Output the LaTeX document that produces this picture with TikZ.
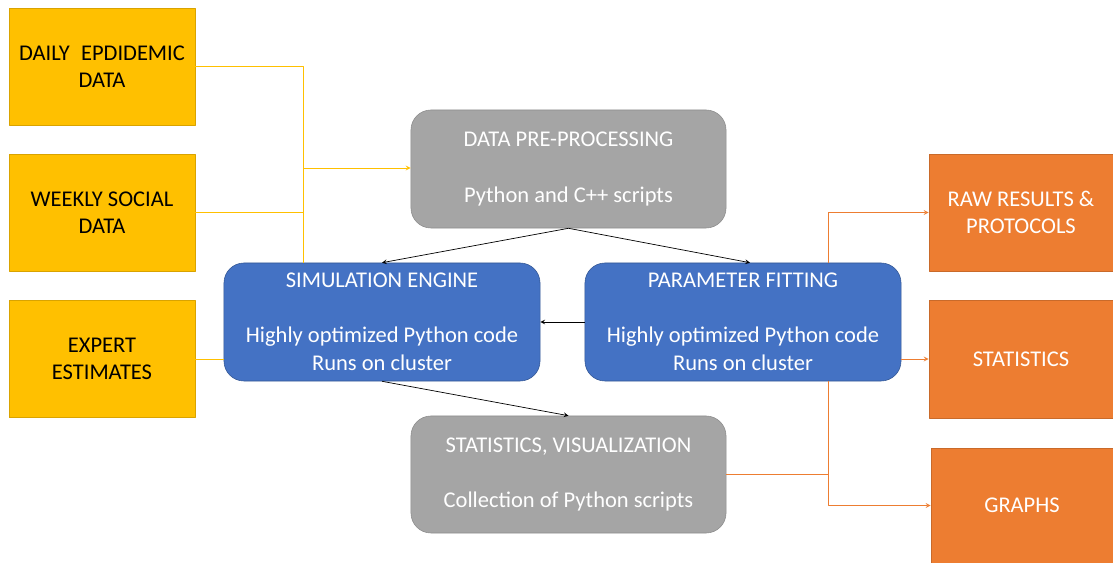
\documentclass[tikz,border=0pt]{standalone}
\usepackage{fontspec}
\setmainfont{Carlito}
\usetikzlibrary{calc}
\definecolor{inyellow}{HTML}{FFC000}
\definecolor{procgray}{HTML}{A5A5A5}
\definecolor{coreblue}{HTML}{4472C4}
\definecolor{outorange}{HTML}{ED7D31}
\tikzset{
	box/.style={rectangle, align=center, inner sep=0pt, font=\fontsize{16}{19.6}\selectfont},
	inbox/.style={box, fill=inyellow, draw=inyellow!85!black, text=black, minimum width=4.65cm, minimum height=2.925cm},
	procbox/.style={box, fill=procgray, draw=procgray!85!black, text=white, rounded corners=0.5cm, minimum width=7.875cm, minimum height=2.95cm},
	corebox/.style={box, fill=coreblue, draw=coreblue!75!black, text=white, rounded corners=0.5cm, minimum width=7.9cm, minimum height=2.95cm},
	outbox/.style={box, fill=outorange, draw=outorange!85!black, text=white, minimum width=4.6cm, minimum height=2.925cm},
}
\begin{document}
\begin{tikzpicture}[x=0.025cm, y=-0.025cm, line join=round, >=stealth]
	\useasboundingbox (0,0) rectangle (1113,563);
	% inputs
	\node[inbox] (daily) at (102,66.5) {DAILY\enspace EPDIDEMIC\\DATA};
	\node[inbox] (weekly) at (102,212.5) {WEEKLY SOCIAL\\DATA};
	\node[inbox] (expert) at (102,359) {EXPERT\\ESTIMATES};
	% processing
	\node[procbox] (prep) at (568.5,169) {DATA PRE-PROCESSING\\ \\Python and C++ scripts};
	\node[corebox] (sim) at (382,322) {SIMULATION ENGINE\\ \\Highly optimized Python code\\Runs on cluster};
	\node[corebox] (fit) at (743,322) {PARAMETER FITTING\\ \\Highly optimized Python code\\Runs on cluster};
	\node[procbox, minimum height=2.925cm] (vis) at (568.5,474.5) {STATISTICS, VISUALIZATION\\ \\Collection of Python scripts};
	% outputs
	\node[outbox] (raw) at (1021,212.5) {RAW RESULTS \&\\PROTOCOLS};
	\node[outbox, minimum height=2.95cm] (stat) at (1021,359) {STATISTICS};
	\node[outbox, minimum width=4.55cm, minimum height=2.875cm] (graphs) at (1022,505.5) {GRAPHS};
	% junctions
	\coordinate (yj) at (303,168);
	\coordinate (oj) at (828,474);
	% yellow connectors
	\draw[inyellow, line width=0.6pt] (daily.east) -- (daily.east -| yj) -- (yj |- sim.north);
	\draw[inyellow, line width=0.6pt] (weekly.east) -- (weekly.east -| yj);
	\draw[inyellow, line width=0.6pt, ->] (yj) -- (yj -| prep.west);
	\draw[inyellow, line width=0.6pt] (expert.east) -- (expert.east -| sim.west);
	% black connectors
	\draw[->, line width=0.5pt] (prep.south) -- (sim.north);
	\draw[->, line width=0.5pt] (prep.south) -- ($(fit.north)+(7,0)$);
	\draw[->, line width=0.5pt] (fit.west) -- (sim.east);
	\draw[->, line width=0.5pt] (sim.south) -- (vis.north);
	% orange connectors
	\draw[outorange, line width=0.6pt, ->] (oj |- fit.north) |- (raw.west);
	\draw[outorange, line width=0.6pt, ->] (fit.east |- stat.west) -- (stat.west);
	\draw[outorange, line width=0.6pt, ->] (oj |- fit.south) |- (graphs.west);
	\draw[outorange, line width=0.6pt] (vis.east) -- (vis.east -| oj);
\end{tikzpicture}
\end{document}
